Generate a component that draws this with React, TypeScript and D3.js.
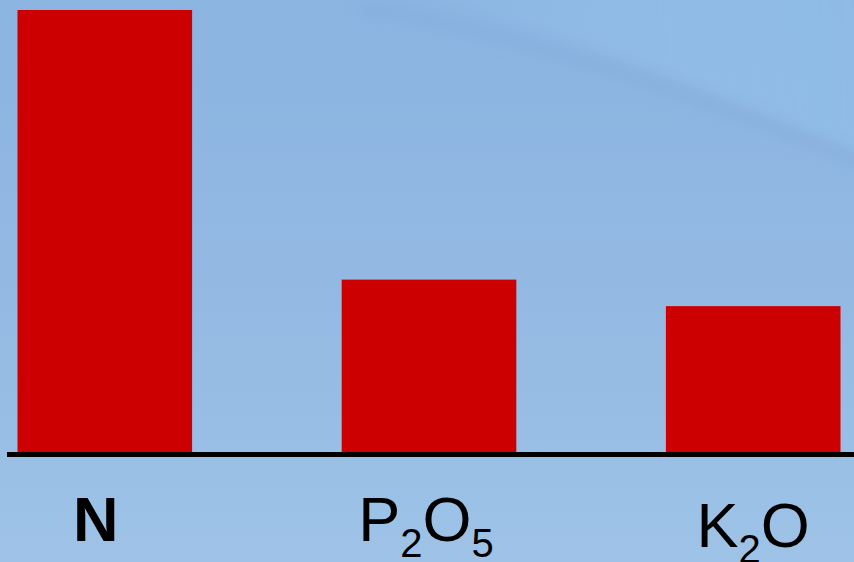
import React from "react";
import * as d3 from "d3";

// Nutrient categories and their relative amounts
const categories = ["N", "P2O5", "K2O"];
const values = [100, 39, 33];

const W = 854;
const H = 562;
const baseY = 452;
const topY = 10;

// Label pieces: [text, isSubscript]
const labelParts: [string, boolean][][] = [
  [["N", false]],
  [["P", false], ["2", true], ["O", false], ["5", true]],
  [["K", false], ["2", true], ["O", false]],
];

export default function App() {
  const x = d3
    .scaleBand<string>()
    .domain(categories)
    .range([17.5, 840.5])
    .paddingInner(0.4614)
    .paddingOuter(0);

  const y = d3.scaleLinear().domain([0, 100]).range([baseY, topY]);

  const labelDx = [-9, -3, 0];
  const labelY = [541, 541, 547];

  return (
    <svg
      width={W}
      height={H}
      style={{ position: "absolute", left: 0, top: 0, display: "block" }}
      fontFamily="'Liberation Sans', Arial, sans-serif"
    >
      <defs>
        <linearGradient id="bg" x1="0" y1="0" x2="0" y2="1">
          <stop offset="0" stopColor="#8bb4e1" />
          <stop offset="0.5" stopColor="#93b9e3" />
          <stop offset="1" stopColor="#9ec3e7" />
        </linearGradient>
        <linearGradient id="hilite" x1="0" y1="0" x2="1" y2="0">
          <stop offset="0" stopColor="#93c0ea" stopOpacity="0" />
          <stop offset="0.5" stopColor="#92bfe9" stopOpacity="0.6" />
          <stop offset="1" stopColor="#8fbde8" stopOpacity="0.8" />
        </linearGradient>
        <filter id="soft" x="-10%" y="-10%" width="120%" height="120%">
          <feGaussianBlur stdDeviation="6" />
        </filter>
      </defs>

      <rect x={0} y={0} width={W} height={H} fill="url(#bg)" />
      {/* soft swoosh across the upper right */}
      <path
        d="M330,-20 C480,0 640,60 880,160 L880,-20 Z"
        fill="url(#hilite)"
        filter="url(#soft)"
      />
      <path
        d="M360,8 C500,30 660,80 880,170"
        fill="none"
        stroke="#83aad9"
        strokeOpacity={0.35}
        strokeWidth={14}
        filter="url(#soft)"
      />

      {categories.map((c, i) => (
        <rect
          key={c}
          x={x(c)}
          y={y(values[i])}
          width={x.bandwidth()}
          height={baseY - y(values[i])}
          fill="#cc0000"
        />
      ))}

      <line x1={7} x2={W} y1={454.5} y2={454.5} stroke="#000" strokeWidth={5} />

      {categories.map((c, i) => (
        <text
          key={c}
          x={(x(c) as number) + x.bandwidth() / 2 + labelDx[i]}
          y={labelY[i]}
          textAnchor="middle"
          fontSize={63}
          fontWeight={i === 0 ? "bold" : "normal"}
          fill="#000"
        >
          {labelParts[i].map(([t, sub], j) =>
            sub ? (
              <tspan key={j} fontSize={40} dy={16}>
                {t}
              </tspan>
            ) : (
              <tspan key={j} dy={j > 0 ? -16 : 0}>
                {t}
              </tspan>
            )
          )}
        </text>
      ))}
    </svg>
  );
}
